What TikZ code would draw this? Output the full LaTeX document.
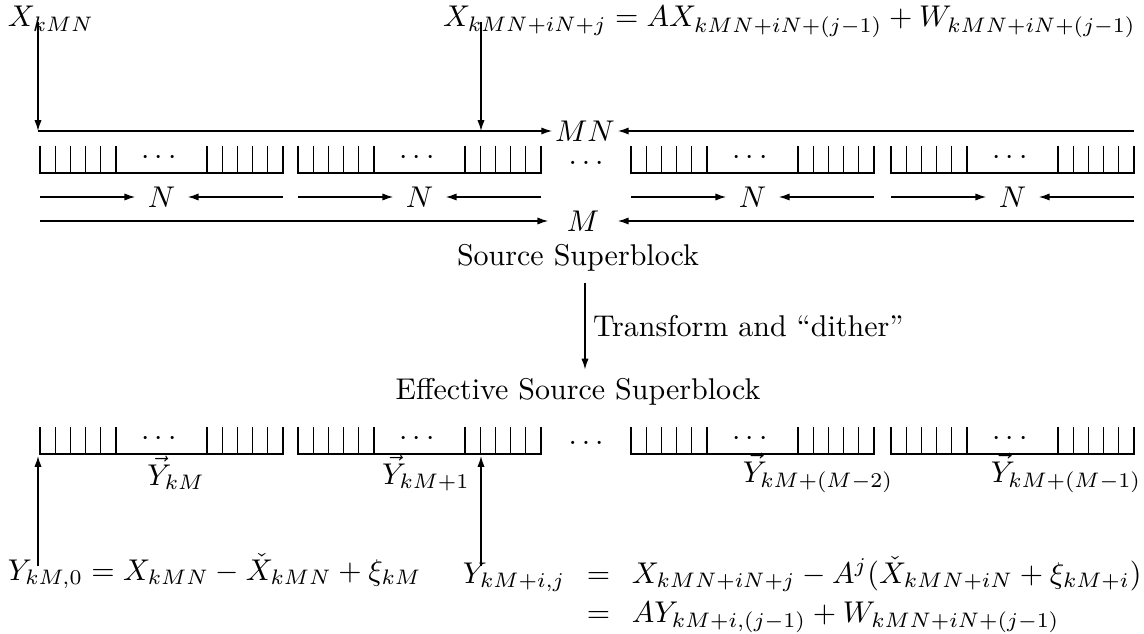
\documentclass[tikz,border=0pt]{standalone}
\usepackage{amsmath}
\usetikzlibrary{arrows.meta, positioning, calc}

% one block of N cells: left x, top y, name
\newcommand{\cellblock}[3]{%
  \draw[blk] ({#1},{#2}) -- ({#1},{#2+27}) -- ({#1+243},{#2+27}) -- ({#1+243},{#2});
  \foreach \k in {1,...,5}{
    \draw[blk] ({#1+15.2*\k},{#2}) -- ({#1+15.2*\k},{#2+27});
    \draw[blk] ({#1+243-15.2*\k},{#2}) -- ({#1+243-15.2*\k},{#2+27});
  }
  \node[lbl] (#3) at ({#1+121.5},{#2+12}) {$\cdots$};
}

\begin{document}
\begin{tikzpicture}[
    x=0.3333pt, y=-0.3333pt,
    lbl/.style={inner sep=0pt, outer sep=0pt},
    sym/.style={inner xsep=4pt, inner ysep=0pt},
    blk/.style={line width=0.45pt},
    arr/.style={-{Latex[length=3.6pt,width=2.4pt]}, line width=0.45pt}
]
\useasboundingbox (0,0) rectangle (1144,634);

% top labels
\node[lbl, anchor=base west] (xkmn) at (8,27) {$X_{kMN}$};
\node[lbl, anchor=base west] (xrec) at (443,27)
  {$X_{kMN+iN+j} = AX_{kMN+iN+(j-1)} + W_{kMN+iN+(j-1)}$};
\coordinate (xa) at (38,22);
\coordinate (xb) at (481,22);
\coordinate (ca) at (38,131);
\coordinate (cb) at (481,131);
\coordinate (mnr) at (1134,131);
\node[lbl, inner xsep=1pt] (mn) at (585,131) {$MN$};
\draw[arr] (xa) -- (ca);
\draw[arr] (xb) -- (cb);
\draw[arr] (ca) -- (mn.west);
\draw[arr] (mnr) -- (mn.east);

% source superblock
\foreach \bx [count=\i] in {40,298,631,891}{
  \cellblock{\bx}{146}{sd\i}
  \cellblock{\bx}{427}{ed\i}
  \node[sym] (n\i) at ({\bx+121.5},197) {$N$};
  \coordinate (nl\i) at (\bx,197);
  \coordinate (nr\i) at ({\bx+243},197);
  \draw[arr] (nl\i) -- (n\i.west);
  \draw[arr] (nr\i) -- (n\i.east);
}
\node[lbl] (gap1) at (586,163) {$\ldots$};
\node[lbl] (gap2) at (586,443) {$\ldots$};

\coordinate (ml) at (40,221);
\coordinate (mr) at (1134,221);
\node[sym, inner xsep=6pt] (m) at (583,221) {$M$};
\draw[arr] (ml) -- (m.west);
\draw[arr] (mr) -- (m.east);

\node[lbl] (src) at (578,258) {Source Superblock};
\node[lbl] (eff) at (578,392) {Effective Source Superblock};
\draw[arr] ($(src.south)+(7,12)$) coordinate (tf) -- ($(eff.north)+(7,-9)$) coordinate (tt);
\node[lbl, anchor=west] (tlab) at ($(tf)!0.5!(tt)+(8,0)$) {Transform and “dither”};

% effective blocks
\node[lbl] (y1) at (176,473) {$\vec{Y}_{kM}$};
\node[lbl] (y2) at (426,473) {$\vec{Y}_{kM+1}$};
\node[lbl] (y3) at (818,473) {$\vec{Y}_{kM+(M-2)}$};
\node[lbl] (y4) at (1066,473) {$\vec{Y}_{kM+(M-1)}$};

% bottom equations
\node[lbl, anchor=base west] (eql) at (8,580)
  {$Y_{kM,0} = X_{kMN} - \check{X}_{kMN} + \xi_{kM}$};
\node[lbl, anchor=north west] (eqr) at (452,557)
  {\setlength{\arraycolsep}{3.6pt}$\begin{array}{rcl}
    Y_{kM+i,j} & = & X_{kMN+iN+j} - A^{j}(\check{X}_{kMN+iN} + \xi_{kM+i})\\[1pt]
               & = & AY_{kM+i,(j-1)} + W_{kMN+iN+(j-1)}
  \end{array}$};
\coordinate (ya) at (38,566);
\coordinate (yb) at (481,566);
\coordinate (ba) at (38,456);
\coordinate (bb) at (481,456);
\draw[arr] (ya) -- (ba);
\draw[arr] (yb) -- (bb);
\end{tikzpicture}
\end{document}
